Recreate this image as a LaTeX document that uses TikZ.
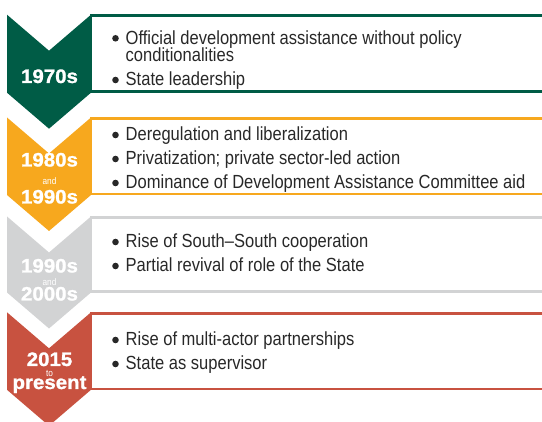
\documentclass[tikz,border=0pt]{standalone}
\usepackage{fontspec}
\setmainfont{Liberation Sans}[FakeStretch=0.87]
\newfontfamily\yearfont{Liberation Sans}[FakeStretch=1.05, FakeBold=1.2]
\definecolor{dkgreen}{RGB}{0,92,70}
\definecolor{amber}{RGB}{247,168,30}
\definecolor{ltgray}{RGB}{210,211,212}
\definecolor{brick}{RGB}{200,82,64}
\definecolor{ink}{RGB}{40,40,40}
\begin{document}
\begin{tikzpicture}[x=1pt, y=-1pt,
    item/.style={anchor=base west, inner sep=0pt, text=ink, font=\fontsize{19}{19}\selectfont},
    dot/.style={fill=ink},
    year/.style={anchor=base, inner sep=0pt, text=white, font=\yearfont\bfseries\fontsize{19.5}{19.5}\selectfont},
    link/.style={anchor=base, inner sep=0pt, text=white, font=\fontsize{9.5}{9.5}\selectfont}]
    \useasboundingbox (0,0) rectangle (542,422);
    % chevrons and boxes: top, height, colour
    \foreach \t/\h/\c in {14.7/78/dkgreen, 117.5/77.5/amber, 216.5/76/ltgray, 312.3/77.5/brick}{
        \fill[\c] (7,\t) -- (49,\t+36) -- (91,\t) -- (91,\t+\h) -- (49,\t+\h+36) -- (7,\t+\h) -- cycle;
        \draw[\c, line width=2.5pt] (542,\t+1) -- (91,\t+1) -- (91,\t+\h-1) -- (542,\t+\h-1);
    }
    % bullets
    \foreach \b in {38.3, 80, 135, 159, 183, 242, 266, 340, 364}
        \fill[dot] (115.5,\b) circle[radius=3.3pt];
    
    % 1970s
    \node[year] (y70) at (49.5,83) {1970s};
    \node[item] (t11) at (125.5,44.3) {Official development assistance without policy};
    \node[item] (t12) at (125.5,61.3) {conditionalities};
    \node[item] (t13) at (125.5,86) {State leadership};
    
    % 1980s and 1990s
    \node[year] (y80) at (49.5,166.5) {1980s}; \node[link] (a80) at (49.5,185) {and};
    \node[year] (y90) at (49.5,203.5) {1990s};
    \node[item] (t21) at (125.5,141) {Deregulation and liberalization};
    \node[item] (t22) at (125.5,165) {Privatization; private sector-led action};
    \node[item] (t23) at (125.5,189) {Dominance of Development Assistance Committee aid};
    
    % 1990s and 2000s
    \node[year] (y91) at (49.5,272.5) {1990s}; \node[link] (a91) at (49.5,285.5) {and};
    \node[year] (y00) at (49.5,300.5) {2000s};
    \node[item] (t31) at (125.5,248) {Rise of South--South cooperation};
    \node[item] (t32) at (125.5,272) {Partial revival of role of the State};
    
    % 2015 to present
    \node[year] (y15) at (49.5,366) {2015}; \node[link] (a15) at (49.5,377) {to};
    \node[year] (yp) at (49.5,389) {present};
    \node[item] (t41) at (125.5,346) {Rise of multi-actor partnerships};
    \node[item] (t42) at (125.5,370) {State as supervisor};
\end{tikzpicture}
\end{document}
